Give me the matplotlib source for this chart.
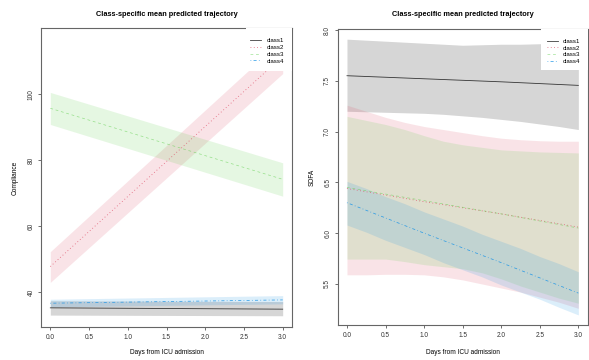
import matplotlib
matplotlib.use("Agg")
import matplotlib.pyplot as plt
from matplotlib.patches import Rectangle
from matplotlib.lines import Line2D

plt.rcParams['font.family'] = ['Liberation Sans', 'DejaVu Sans']

# colours of the four classes (R 4.x palette)
colors = ['#000000', '#DF536B', '#61D04F', '#2297E6']
styles = ['-', (0, (1, 3)), (0, (4, 4)), (0, (1, 3, 4, 3))]
labels = ['class1', 'class2', 'class3', 'class4']

days_ticks = [0.0, 0.5, 1.0, 1.5, 2.0, 2.5, 3.0]

# ---- Compliance (left) ----
comp_t = [0.0, 3.0]
comp_mean = {
    'class1': [35.3, 34.9],
    'class2': [47.8, 111.4],
    'class3': [95.7, 74.2],
    'class4': [36.7, 37.7],
}
comp_low = {
    'class1': [33.1, 32.9],
    'class2': [43.0, 106.2],
    'class3': [90.8, 69.1],
    'class4': [35.6, 36.5],
}
comp_up = {
    'class1': [37.45, 37.2],
    'class2': [52.3, 116.6],
    'class3': [100.5, 79.2],
    'class4': [37.9, 39.0],
}
comp_yticks = [40, 60, 80, 100]

# ---- SOFA (right) ----
sofa_t = [0.0, 0.25, 0.5, 0.75, 1.0, 1.25, 1.5, 1.75, 2.0, 2.25, 2.5, 2.75, 3.0]
sofa_mean_t = [0.0, 1.0, 2.0, 3.0]
sofa_mean = {
    'class1': [7.55, 7.52, 7.49, 7.455],
    'class2': [6.44, 6.31, 6.19, 6.06],
    'class3': [6.45, 6.32, 6.19, 6.05],
    'class4': [6.30, 6.00, 5.71, 5.41],
}
sofa_low = {
    'class1': [7.20, 7.195, 7.19, 7.185, 7.18, 7.17, 7.155, 7.14, 7.12, 7.10, 7.075, 7.05, 7.02],
    'class2': [5.59, 5.59, 5.595, 5.595, 5.59, 5.57, 5.54, 5.50, 5.46, 5.42, 5.37, 5.32, 5.26],
    'class3': [5.745, 5.745, 5.745, 5.72, 5.69, 5.67, 5.65, 5.61, 5.55, 5.48, 5.42, 5.36, 5.31],
    'class4': [6.08, 6.01, 5.93, 5.86, 5.79, 5.71, 5.64, 5.57, 5.49, 5.42, 5.35, 5.27, 5.195],
}
sofa_up = {
    'class1': [7.91, 7.90, 7.89, 7.88, 7.87, 7.86, 7.85, 7.855, 7.86, 7.86, 7.865, 7.87, 7.87],
    'class2': [7.26, 7.20, 7.14, 7.09, 7.05, 7.02, 6.99, 6.96, 6.935, 6.92, 6.91, 6.905, 6.905],
    'class3': [7.15, 7.11, 7.07, 7.02, 6.96, 6.905, 6.87, 6.845, 6.82, 6.81, 6.80, 6.795, 6.79],
    'class4': [6.51, 6.44, 6.36, 6.29, 6.21, 6.14, 6.07, 5.99, 5.92, 5.85, 5.77, 5.70, 5.62],
}
sofa_yticks = [5.5, 6.0, 6.5, 7.0, 7.5, 8.0]

fig = plt.figure(figsize=(5.89, 3.6), dpi=100)
ax1 = fig.add_axes([41 / 589, 1 - 327 / 360, 251 / 589, 299 / 360])
ax2 = fig.add_axes([337.7 / 589, 1 - 325 / 360, 249.9 / 589, 295.7 / 360])

line_w = [0.6, 0.6, 0.5, 0.55]
line_a = [0.75, 0.9, 0.6, 0.9]


def draw_panel(ax, t_band, low, up, t_mean, mean, yticks, ylim, ylabel, box, leg_xy):
    for i, name in enumerate(labels):
        ax.fill_between(t_band, low[name], up[name], color=colors[i], alpha=0.16,
                        linewidth=0, zorder=1 + i)
    for i, name in enumerate(labels):
        ax.plot(t_mean, mean[name], color=colors[i], linestyle=styles[i],
                linewidth=line_w[i], alpha=line_a[i], zorder=10 + i)
    ax.set_xlim(-0.12, 3.12)
    ax.set_ylim(*ylim)
    ax.set_xticks(days_ticks)
    ax.set_xticklabels([f'{d:.1f}' for d in days_ticks])
    ax.set_yticks(yticks)
    ax.set_yticklabels([str(v) for v in yticks], rotation=90, va='center')
    ax.tick_params(length=2.2, width=0.5, pad=2.5, labelsize=4.7, colors='#333333')
    for s in ax.spines.values():
        s.set_color('#666666')
        s.set_linewidth(0.8)
    ax.set_xlabel('Days from ICU admission', fontsize=4.7)
    ax.set_ylabel(ylabel, fontsize=4.7)
    ax.xaxis.set_label_coords(0.5, box[2])
    ax.xaxis.label.set_va('center')
    ax.yaxis.set_label_coords(box[3], 0.5)
    ax.yaxis.label.set_va('center')
    # white legend background, as in the R plot
    ax.add_patch(Rectangle((box[0], box[1]), 1 - box[0], 1 - box[1], transform=ax.transAxes,
                           facecolor='white', edgecolor='none', zorder=20))
    handles = [Line2D([], [], color=colors[i], linestyle=styles[i], linewidth=line_w[i],
                      alpha=line_a[i]) for i in range(4)]
    leg = ax.legend(handles, labels, loc='upper left', bbox_to_anchor=leg_xy, frameon=False,
                    fontsize=4.4, handlelength=1.8, handletextpad=0.9, labelspacing=0.25,
                    borderpad=0, borderaxespad=0)
    leg.set_zorder(21)


draw_panel(ax1, comp_t, comp_low, comp_up, comp_t, comp_mean, comp_yticks, (29.5, 120),
           'Compliance', (0.817, 0.857, -0.086, -0.1036), (0.833, 0.967))
draw_panel(ax2, sofa_t, sofa_low, sofa_up, sofa_mean_t, sofa_mean, sofa_yticks, (5.096, 8.007),
           'SOFA', (0.812, 0.862, -0.093, -0.104), (0.836, 0.969))

fig.text(166.5 / 589, 1 - 14 / 360, 'Class-specific mean predicted trajectory',
         ha='center', va='center', fontsize=5.3, fontweight='bold')
fig.text(462.6 / 589, 1 - 14 / 360, 'Class-specific mean predicted trajectory',
         ha='center', va='center', fontsize=5.3, fontweight='bold')

fig.savefig('out.png', dpi=100)
